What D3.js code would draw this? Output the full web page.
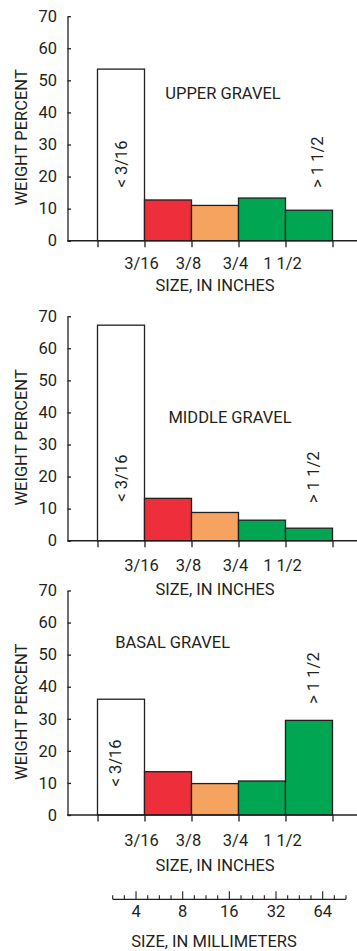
<!DOCTYPE html>
<html>
<head>
<meta charset="utf-8">
<script src="https://cdn.jsdelivr.net/npm/d3@7"></script>
<style>
  html, body { margin: 0; padding: 0; background: #fff; }
  text { font-family: Roboto, "Open Sans", sans-serif; fill: #231f20; }
</style>
</head>
<body>
<script>
// ---------- data ----------
const panelTitles = ["UPPER GRAVEL", "MIDDLE GRAVEL", "BASAL GRAVEL"];
const sizeClasses = ["< 3/16", "3/16 - 3/8", "3/8 - 3/4", "3/4 - 1 1/2", "> 1 1/2"];
const upperValues  = [53.5, 12.7, 11.0, 13.3, 9.5];
const middleValues = [67.2, 13.2, 8.8, 6.4, 3.9];
const basalValues  = [36.1, 13.5, 9.8, 10.6, 29.5];
const barColors = ["#ffffff", "#ee2e3a", "#f7a360", "#00a651", "#00a651"];
const inchBoundaries = [0, 1, 2, 3, 4, 5];
const inchTickLabels = ["", "3/16", "3/8", "3/4", "1 1/2", ""];
const yTickValues = [0, 10, 20, 30, 40, 50, 60, 70];
const mmMajorTicks = [4, 8, 16, 32, 64];
const firstClassLabel = "< 3/16";
const lastClassLabel = "> 1 1/2";

// ---------- layout (positions, not data) ----------
const W = 357, H = 951;
const panelBottoms = [240.7, 540.7, 815];
const plotH = 224.5;
const axisX = 67.5;
const fs = 16.5;
// annotation anchors in data units [x in class units, y in percent]
const titleAnchors = [[2.67, 46], [2.82, 38.5], [1.6, 54]];
const firstLabelY = [23.9, 19.5, 16.2];
const firstLabelX = [0.5, 0.5, 0.38];
const lastLabelY = [24.5, 19.8, 42.7];
const lastLabelX = [4.67, 4.6, 4.6];
const tickLabelOffset = [23, 24.5, 25];
const axisTitleOffset = [44.5, 48.5, 50];

const svg = d3.select("body").append("svg")
  .attr("width", W).attr("height", H);

const x = d3.scaleLinear().domain([0, 5]).range([97.5, 332.5]);
const allValues = [upperValues, middleValues, basalValues];

allValues.forEach((vals, i) => {
  const y0 = panelBottoms[i];
  const y = d3.scaleLinear().domain([0, 70]).range([y0, y0 - plotH]);
  const g = svg.append("g");

  // bars
  g.selectAll("rect.bar")
    .data(vals)
    .join("rect")
    .attr("class", "bar")
    .attr("x", (d, j) => x(j))
    .attr("width", x(1) - x(0))
    .attr("y", d => y(d))
    .attr("height", d => y(0) - y(d))
    .attr("fill", (d, j) => barColors[j])
    .attr("stroke", "#231f20")
    .attr("stroke-width", 1.3);

  // y axis
  const ya = g.append("g")
    .attr("transform", `translate(${axisX},0)`)
    .call(d3.axisLeft(y).tickValues(yTickValues).tickSizeInner(-3.5).tickSizeOuter(0).tickPadding(10.5));
  ya.selectAll("path.domain").attr("stroke", "#231f20").attr("stroke-width", 1.3);
  ya.selectAll(".tick line").attr("stroke", "#231f20").attr("stroke-width", 1.3);
  ya.selectAll(".tick text").style("font-size", fs + "px").style("font-family", "Roboto").attr("fill", "#231f20");

  // baseline
  g.append("line")
    .attr("x1", axisX).attr("x2", W)
    .attr("y1", y(0)).attr("y2", y(0))
    .attr("stroke", "#231f20").attr("stroke-width", 1.6);

  // x ticks at class boundaries
  const xa = g.append("g")
    .attr("transform", `translate(0,${y(0)})`)
    .call(d3.axisBottom(x).tickValues(inchBoundaries).tickFormat("").tickSizeInner(6.5).tickSizeOuter(0));
  xa.select("path.domain").remove();
  xa.selectAll(".tick line").attr("stroke", "#231f20").attr("stroke-width", 1.3);

  // tick labels
  g.selectAll("text.inch")
    .data(inchBoundaries)
    .join("text")
    .attr("class", "inch")
    .attr("x", d => x(d) - 3)
    .attr("y", y(0) + tickLabelOffset[i])
    .attr("dy", "0.35em")
    .attr("text-anchor", "middle")
    .style("font-size", fs + "px")
    .text((d, j) => inchTickLabels[j]);

  // axis titles
  g.append("text")
    .attr("x", 215)
    .attr("y", y(0) + axisTitleOffset[i])
    .attr("dy", "0.35em")
    .attr("text-anchor", "middle")
    .style("font-size", fs + "px")
    .text("SIZE, IN INCHES");

  g.append("text")
    .attr("transform", `translate(${21},${y(35) + 9}) rotate(-90)`)
    .attr("dy", "0.35em")
    .attr("text-anchor", "middle")
    .style("font-size", fs + "px")
    .text("WEIGHT PERCENT");

  // panel title
  g.append("text")
    .attr("x", x(titleAnchors[i][0]))
    .attr("y", y(titleAnchors[i][1]))
    .attr("dy", "0.35em")
    .attr("text-anchor", "middle")
    .style("font-size", fs + "px")
    .text(panelTitles[i]);

  // class labels (rotated)
  g.append("text")
    .attr("transform", `translate(${x(firstLabelX[i])},${y(firstLabelY[i])}) rotate(-90)`)
    .attr("dy", "0.35em")
    .attr("text-anchor", "middle")
    .style("font-size", fs + "px")
    .text(firstClassLabel);
  g.append("text")
    .attr("transform", `translate(${x(lastLabelX[i])},${y(lastLabelY[i])}) rotate(-90)`)
    .attr("dy", "0.35em")
    .attr("text-anchor", "middle")
    .style("font-size", fs + "px")
    .text(lastClassLabel);
});

// ---------- millimeter scale ----------
const mmY = 899.3;
const mm = d3.scaleLog().base(2).domain([Math.pow(2, 1.5), Math.pow(2, 6.5)]).range([112.7, 346]);
const minorTicks = d3.range(1.5, 6.5001, 0.25).map(e => Math.pow(2, e));
const mg = svg.append("g");
mg.append("line")
  .attr("x1", mm.range()[0]).attr("x2", mm.range()[1])
  .attr("y1", mmY).attr("y2", mmY)
  .attr("stroke", "#231f20").attr("stroke-width", 1.3);
mg.selectAll("line.minor")
  .data(minorTicks)
  .join("line")
  .attr("class", "minor")
  .attr("x1", d => mm(d)).attr("x2", d => mm(d))
  .attr("y1", mmY)
  .attr("y2", d => mmTicksHas(d) ? mmY - 8 : mmY - 4)
  .attr("stroke", "#231f20").attr("stroke-width", 1.1);
function mmTicksHas(d) { return mmMajorTicks.some(t => Math.abs(t - d) < 1e-6); }
mg.selectAll("text.mm")
  .data(mmMajorTicks)
  .join("text")
  .attr("class", "mm")
  .attr("x", d => mm(d))
  .attr("y", 911.7)
  .attr("dy", "0.35em")
  .attr("text-anchor", "middle")
  .style("font-size", fs + "px")
  .text(d => d);
mg.append("text")
  .attr("x", 214)
  .attr("y", 941.5)
  .attr("dy", "0.35em")
  .attr("text-anchor", "middle")
  .style("font-size", fs + "px")
  .text("SIZE, IN MILLIMETERS");
</script>
</body>
</html>
